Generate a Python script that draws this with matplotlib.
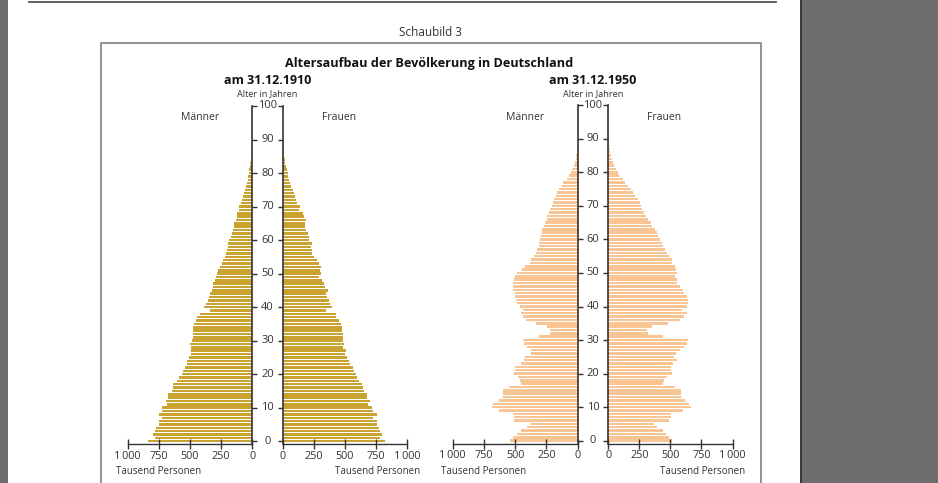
import matplotlib
matplotlib.use('Agg')
import matplotlib.pyplot as plt
from matplotlib.patches import Rectangle
from matplotlib.lines import Line2D

plt.rcParams['font.family'] = ['Open Sans', 'DejaVu Sans']

W, H = 938, 483

# ---------------- data (thousand persons, index = age in years) ----------------
men_1910 = [840, 780, 795, 780, 770, 745, 748, 727, 748, 727,
            722, 682, 692, 680, 675, 645, 640, 635, 602, 588,
            565, 560, 540, 527, 521, 511, 495, 488, 488, 497,
            484, 479, 479, 473, 473, 471, 455, 440, 420, 340,
            388, 372, 353, 345, 340, 326, 318, 313, 300, 291,
            286, 273, 259, 243, 233, 222, 214, 206, 198, 193,
            184, 174, 163, 152, 144, 144, 134, 126, 120, 107,
            104, 88, 80, 72, 67, 59, 53, 45, 37, 32,
            27, 24, 19, 16, 10, 5]
women_1910 = [825, 780, 793, 780, 772, 753, 753, 726, 753, 726,
              720, 685, 699, 680, 680, 651, 645, 637, 613, 600,
              586, 570, 565, 543, 532, 516, 497, 505, 484, 489,
              487, 484, 484, 478, 473, 465, 449, 430, 425, 344,
              395, 382, 371, 355, 349, 366, 336, 331, 315, 290,
              309, 296, 309, 290, 274, 255, 234, 237, 231, 237,
              215, 210, 204, 183, 175, 177, 183, 167, 159, 134,
              140, 118, 108, 102, 91, 81, 70, 62, 54, 43,
              40, 32, 27, 22, 16, 13, 11, 8, 5, 3]
men_1950 = [541, 515, 483, 456, 403, 376, 509, 509, 515, 629,
            683, 675, 629, 600, 600, 600, 549, 453, 461, 475,
            507, 499, 499, 453, 427, 421, 376, 376, 403, 427,
            435, 309, 221, 221, 243, 333, 413, 440, 456, 440,
            461, 483, 493, 499, 501, 515, 515, 515, 509, 501,
            483, 448, 421, 381, 373, 347, 333, 328, 309, 309,
            301, 293, 288, 283, 269, 261, 248, 243, 229, 221,
            208, 200, 189, 173, 163, 147, 128, 115, 88, 67,
            56, 43, 29, 24, 16, 11, 8, 5, 3, 1]
women_1950 = [511, 492, 462, 438, 390, 368, 492, 503, 505, 605,
              664, 653, 618, 583, 583, 583, 538, 444, 452, 470,
              511, 505, 503, 524, 551, 532, 543, 578, 613, 630,
              645, 440, 317, 309, 349, 484, 578, 613, 632, 597,
              637, 645, 640, 632, 613, 600, 578, 556, 551, 540,
              556, 546, 538, 516, 511, 489, 476, 457, 438, 430,
              417, 403, 390, 376, 349, 341, 323, 304, 290, 272,
              263, 255, 242, 215, 202, 180, 156, 134, 116, 89,
              81, 62, 48, 40, 32, 24, 16, 11, 5, 3]

x_ticks = [0, 250, 500, 750, 1000]
x_ticklabels = ['0', '250', '500', '750', '1\u2009000']
age_ticks = list(range(0, 101, 10))

title = 'Altersaufbau der Bevölkerung in Deutschland'
subtitles = ['am 31.12.1910', 'am 31.12.1950']
col_1910 = '#C9A22F'
col_1950 = '#FAC595'
axis_col = '#333333'
text_col = '#333333'

fig = plt.figure(figsize=(W / 100, H / 100), dpi=100)
fig.patch.set_facecolor('white')

# page background drawing
bg = fig.add_axes([0, 0, 1, 1])
bg.set_xlim(0, W)
bg.set_ylim(H, 0)
bg.axis('off')
bg.add_patch(Rectangle((0, 0), 8, H, color='#6c6c6c', lw=0))
bg.add_patch(Rectangle((802, 0), W - 802, H, color='#6e6e6e', lw=0))
bg.add_patch(Rectangle((800, 0), 2.2, H, color='#3a3a3a', lw=0))
bg.add_line(Line2D([29, 776], [2, 2], color='#555555', lw=1.3))
bg.add_line(Line2D([100.5, 100.5, 761, 761], [H + 5, 42.5, 42.5, H + 5], color='#8a8a8a', lw=1.3))


def fx(x):
    return x / W


def fy(y):
    return 1 - y / H


def make_ax(x0, x1, ytop, ybot):
    return fig.add_axes([fx(x0), fy(ybot), fx(x1) - fx(x0), (ybot - ytop) / H])


def style(ax, side):
    for s in ax.spines.values():
        s.set_visible(False)
    ax.spines['bottom'].set_visible(True)
    ax.spines['bottom'].set_color(axis_col)
    ax.spines['bottom'].set_linewidth(1.0)
    ax.spines[side].set_visible(True)
    ax.spines[side].set_color(axis_col)
    ax.spines[side].set_linewidth(1.2)
    ax.set_ylim(-0.85, 100)
    ax.set_xticks(x_ticks)
    ax.set_xticklabels(x_ticklabels)
    ax.tick_params(axis='x', direction='inout', length=7, width=1.0, color=axis_col,
                   labelsize=7.8, labelcolor=text_col, pad=1.2)
    ax.set_yticks(age_ticks)
    ax.set_yticklabels([])
    ax.tick_params(axis='y', direction='out', length=3.5, width=1.0, color=axis_col,
                   left=(side == 'left'), right=(side == 'right'))
    ax.patch.set_alpha(0)


pyramids = [
    # (men, women, color, men_x0, men_x1, women_x0, women_x1, ytop, ybot, center, subtitle)
    (men_1910, women_1910, col_1910, 127.7, 252.3, 282.7, 407.3, 106.0, 444.1, 267.5, subtitles[0]),
    (men_1950, women_1950, col_1950, 452.7, 577.7, 608.3, 732.5, 105.3, 443.5, 593.0, subtitles[1]),
]

for men, women, col, mx0, mx1, wx0, wx1, ytop, ybot, cx, sub in pyramids:
    axm = make_ax(mx0, mx1, ytop, ybot)
    axw = make_ax(wx0, wx1, ytop, ybot)
    axm.barh(range(len(men)), men, height=0.74, color=col, lw=0)
    axw.barh(range(len(women)), women, height=0.74, color=col, lw=0)
    axm.set_xlim(1000, 0)
    axw.set_xlim(0, 1000)
    style(axm, 'right')
    style(axw, 'left')
    for a in age_ticks:
        axm.annotate(str(a), xy=(fx(cx), a), xycoords=('figure fraction', 'data'),
                     ha='center', va='center', fontsize=8.0, color=text_col)
    fig.text(fx(cx), fy(80), sub, ha='center', va='center', fontsize=9, fontweight='bold', color='#111111')
    fig.text(fx(cx), fy(94), 'Alter in Jahren', ha='center', va='center', fontsize=6.6, color=text_col)
    fig.text(fx(mx0 + 0.58 * (mx1 - mx0)), fy(117), 'Männer', ha='center', va='center', fontsize=7.5, color=text_col)
    fig.text(fx(wx0 + 0.45 * (wx1 - wx0)), fy(117), 'Frauen', ha='center', va='center', fontsize=7.5, color=text_col)
    fig.text(fx(mx0 - 12), fy(471.5), 'Tausend Personen', ha='left', va='center', fontsize=7.0, color=text_col)
    fig.text(fx(wx1 + 13), fy(471.5), 'Tausend Personen', ha='right', va='center', fontsize=7.0, color=text_col)

fig.text(fx(430), fy(32.5), 'Schaubild 3', ha='center', va='center', fontsize=8.5, color=text_col)
fig.text(fx(429), fy(63), title, ha='center', va='center', fontsize=9.1, fontweight='bold', color='#111111')

fig.savefig('out.png', dpi=100)
